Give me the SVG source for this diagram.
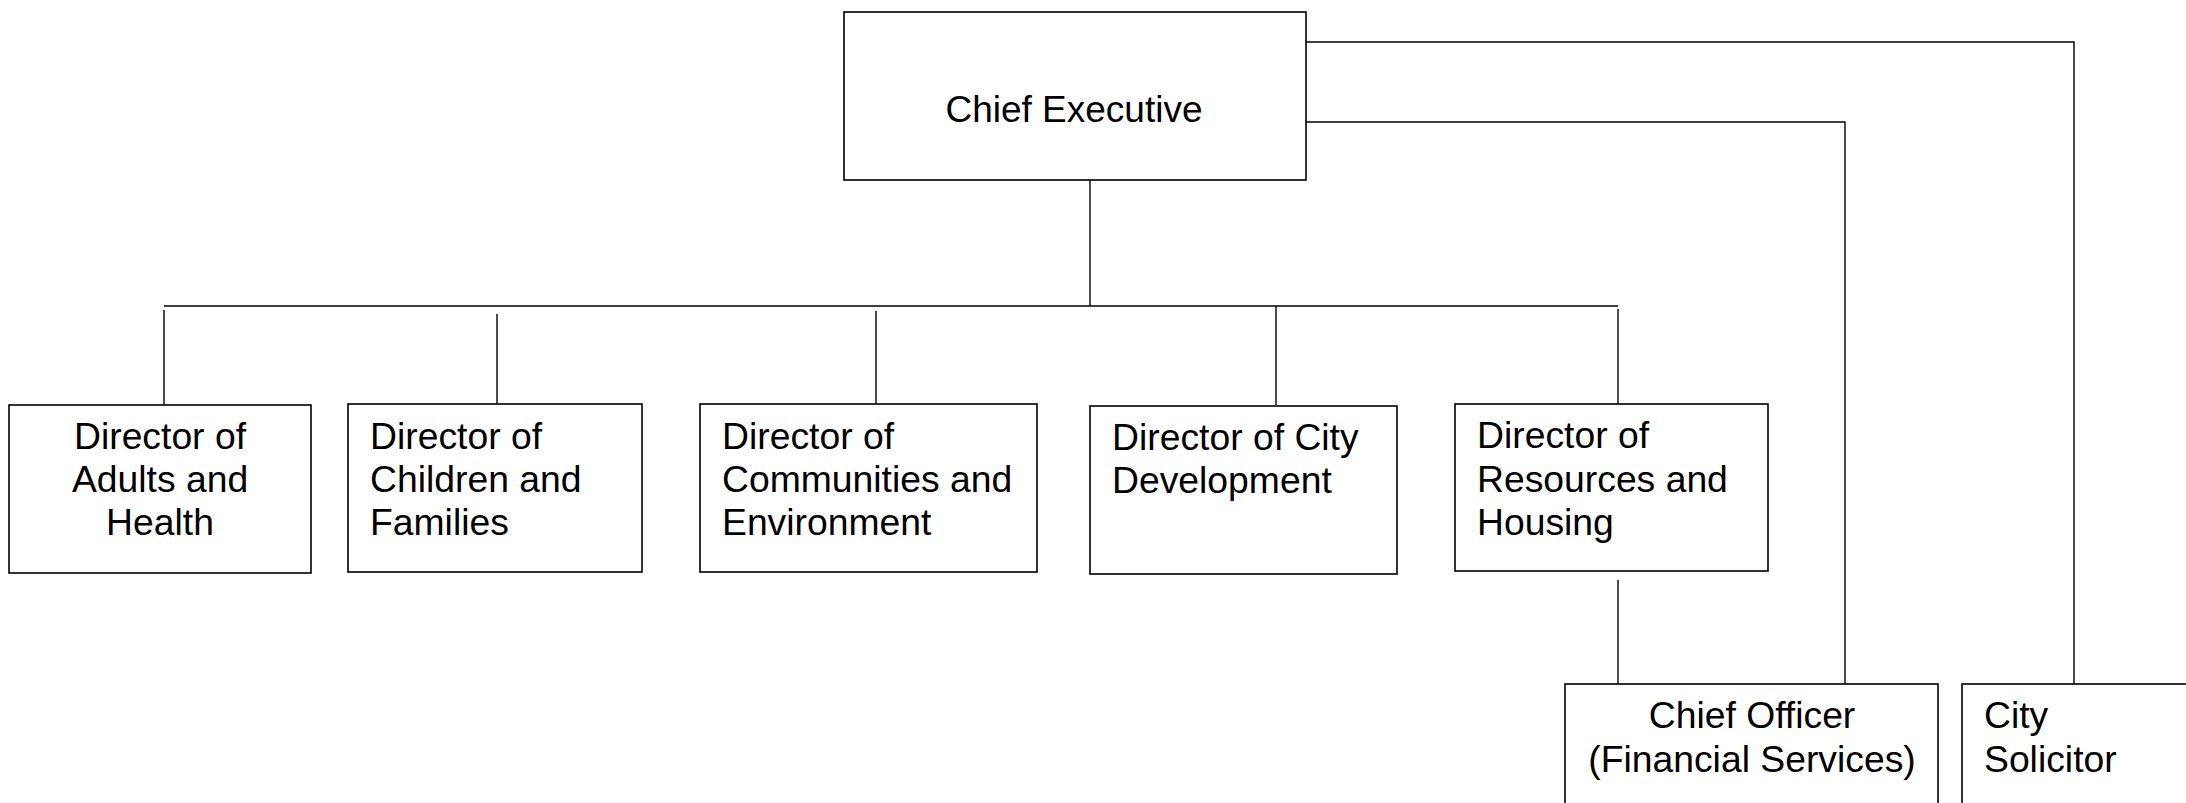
<svg xmlns="http://www.w3.org/2000/svg" width="2186" height="803" viewBox="0 0 2186 803">
<style>
.box{fill:#fff;stroke:#000;stroke-width:1.6}
.ln{fill:none;stroke:#000;stroke-width:1.4}
text{font-family:"Liberation Sans",Arial,sans-serif;font-size:37.3px;fill:#000}
.c{text-anchor:middle}
</style>
<rect width="2186" height="803" fill="#fff"/>
<g id="connectors">
<path class="ln" d="M1306,42 H2074 V684"/>
<path class="ln" d="M1306,122 H1845 V684"/>
<path class="ln" d="M1090,180 V306"/>
<path class="ln" d="M164,306 H1618"/>
<path class="ln" d="M164,310 V407"/>
<path class="ln" d="M497,314 V408"/>
<path class="ln" d="M876,311 V410"/>
<path class="ln" d="M1276,306 V405"/>
<path class="ln" d="M1618,309 V404"/>
<path class="ln" d="M1618,580 V684"/>
</g>
<g id="chief-executive">
<rect class="box" x="844" y="12" width="462" height="168"/>
<text class="c" x="1074" y="122" style="font-size:37px">Chief Executive</text>
</g>
<g id="dir-adults">
<rect class="box" x="9" y="405" width="302" height="168"/>
<text class="c" x="160" y="449">Director of</text>
<text class="c" x="160" y="492">Adults and</text>
<text class="c" x="160" y="535">Health</text>
</g>
<g id="dir-children">
<rect class="box" x="348" y="404" width="294" height="168"/>
<text x="370" y="449">Director of</text>
<text x="370" y="492">Children and</text>
<text x="370" y="535">Families</text>
</g>
<g id="dir-communities">
<rect class="box" x="700" y="404" width="337" height="168"/>
<text x="722" y="449">Director of</text>
<text x="722" y="492">Communities and</text>
<text x="722" y="535">Environment</text>
</g>
<g id="dir-city-dev">
<rect class="box" x="1090" y="406" width="307" height="168"/>
<text x="1112" y="450">Director of City</text>
<text x="1112" y="493">Development</text>
</g>
<g id="dir-resources">
<rect class="box" x="1455" y="404" width="313" height="167"/>
<text x="1477" y="448">Director of</text>
<text x="1477" y="492">Resources and</text>
<text x="1477" y="535">Housing</text>
</g>
<g id="chief-officer">
<rect class="box" x="1565" y="684" width="373" height="130"/>
<text class="c" x="1752" y="728">Chief Officer</text>
<text class="c" x="1752" y="772">(Financial Services)</text>
</g>
<g id="city-solicitor">
<rect class="box" x="1962" y="684" width="240" height="130"/>
<text x="1984" y="728">City</text>
<text x="1984" y="772">Solicitor</text>
</g>
</svg>
